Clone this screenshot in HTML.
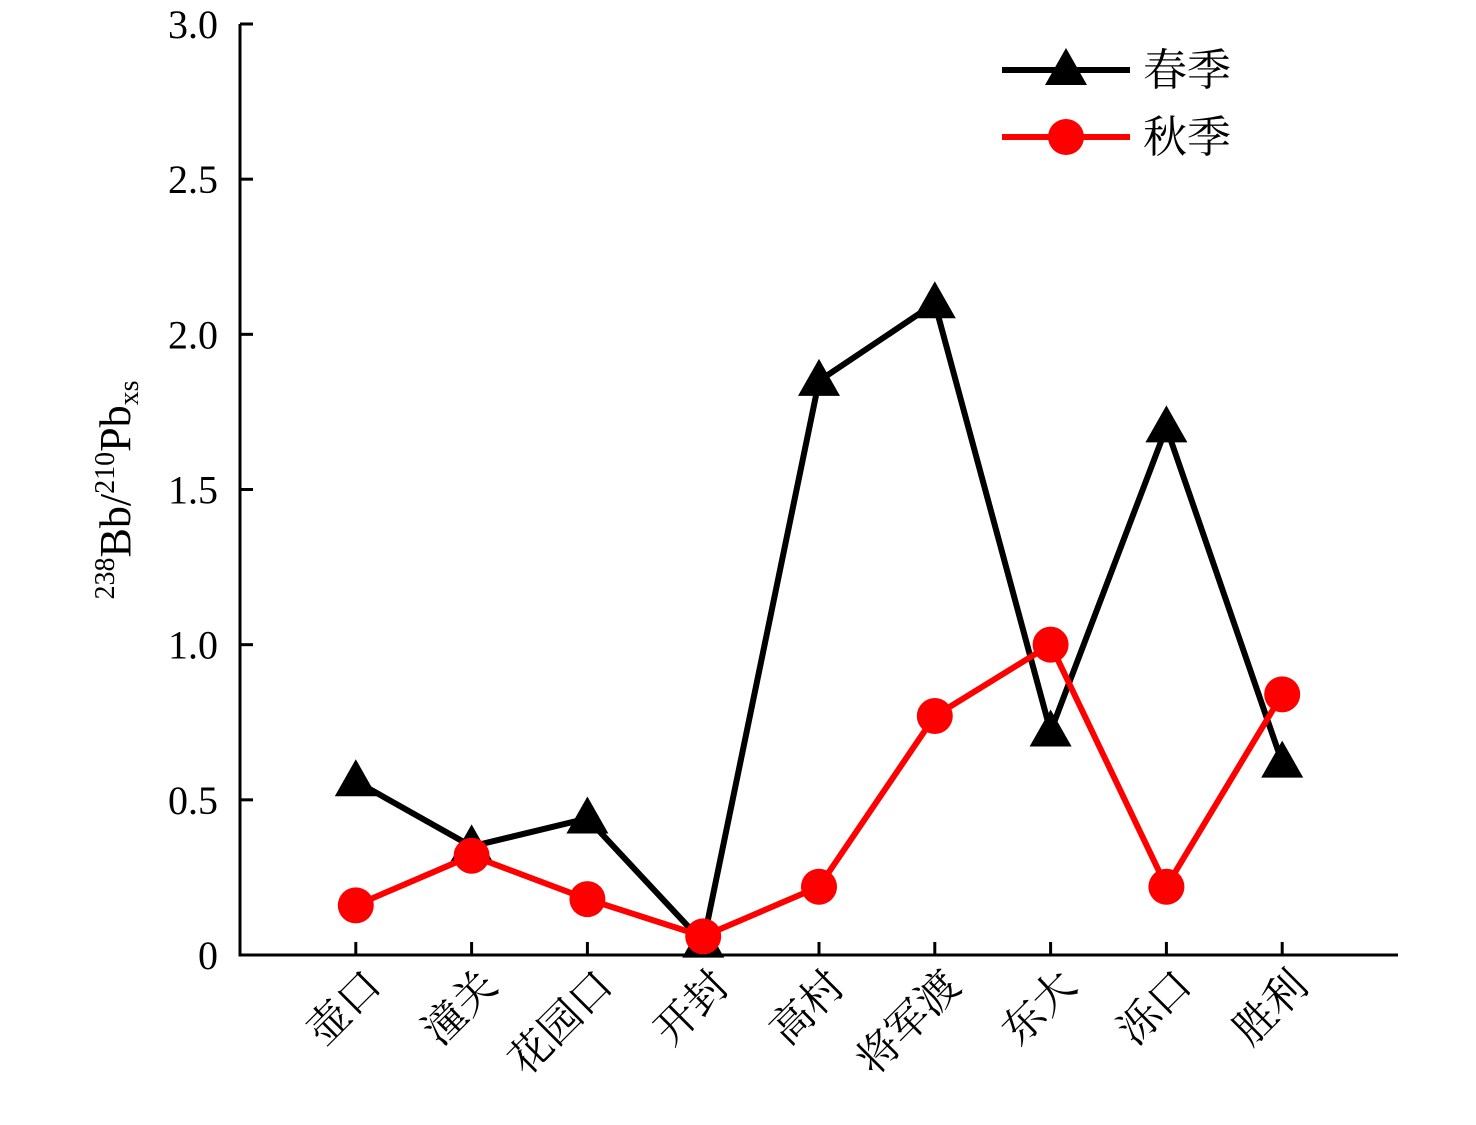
<!DOCTYPE html>
<html><head><meta charset="utf-8"><style>
body{margin:0;background:#fff}
text{font-family:"Liberation Serif","Noto Serif CJK SC",serif}
</style></head><body>
<svg id="c" width="1476" height="1120"></svg>
<script>
const categories=["壶口","潼关","花园口","开封","高村","将军渡","东大","泺口","胜利"];
const springValues=[0.56,0.35,0.44,0.04,1.85,2.10,0.72,1.70,0.62];
const autumnValues=[0.16,0.32,0.18,0.06,0.22,0.77,1.00,0.22,0.84];
const yTicks=[0,0.5,1.0,1.5,2.0,2.5,3.0];
const yTickLabels=["0","0.5","1.0","1.5","2.0","2.5","3.0"];
const NS="http://www.w3.org/2000/svg",svg=document.getElementById('c');
const L=240,R=1398,T=24,B=955;
const x=i=>L+(i+1)*(R-L)/10, y=v=>B-v/3*(B-T);
function el(t,a,p){const e=document.createElementNS(NS,t);for(const k in a)e.setAttribute(k,a[k]);(p||svg).appendChild(e);return e;}
const ax=el('path',{d:`M${L},${T} V${B} H${R}`,fill:'none',stroke:'#000','stroke-width':3});


yTicks.forEach((v,i)=>{
 const t=el('line',{x1:L,x2:L+13,y1:y(v),y2:y(v),stroke:'#000','stroke-width':3});
 
 
 const l=el('text',{x:218,y:y(v)+14,'text-anchor':'end','font-size':40});
 l.textContent=yTickLabels[i];
 
 
});
categories.forEach((c,i)=>{
 const t=el('line',{x1:x(i),x2:x(i),y1:B,y2:B-13,stroke:'#000','stroke-width':3});
 
 
 const l=el('text',{transform:`translate(${x(i)+28},${988}) rotate(-45)`,'text-anchor':'end','font-size':42});
 l.textContent=c;
 
 
});
const yl=el('text',{transform:'translate(130,490) rotate(-90)','text-anchor':'middle','font-size':44});
yl.innerHTML='<tspan font-size="28" dy="-16">238</tspan><tspan dy="16">Bb/</tspan><tspan font-size="28" dy="-16">210</tspan><tspan dy="16">Pb</tspan><tspan font-size="28" dy="8">xs</tspan>';


function tri(cx,cy,col,name){const p=el('polygon',{points:`${cx},${cy-22} ${cx-21},${cy+15} ${cx+21},${cy+15}`,fill:col});}
function circ(cx,cy,col,name){const p=el('circle',{cx:cx,cy:cy,r:18,fill:col});}
function series(vals,col,mk,name){
 const pl=el('polyline',{points:vals.map((v,i)=>x(i)+','+y(v)).join(' '),fill:'none',stroke:col,'stroke-width':6,'stroke-linejoin':'round'});
 
 
 vals.forEach((v,i)=>mk(x(i),y(v),col,name+'-point'));
}
series(springValues,'#000',tri,'spring');
series(autumnValues,'#f00',circ,'autumn');
[[70,'#000',tri,'春季'],[137,'#f00',circ,'秋季']].forEach(([yy,col,mk,lab])=>{
 const ln=el('line',{x1:1002,x2:1130,y1:yy,y2:yy,stroke:col,'stroke-width':6});
 
 
 mk(1066,yy,col,'legend-marker');
 const t=el('text',{x:1143,y:yy+15,'font-size':44});
 t.textContent=lab;
 
 
});
</script>
</body></html>
